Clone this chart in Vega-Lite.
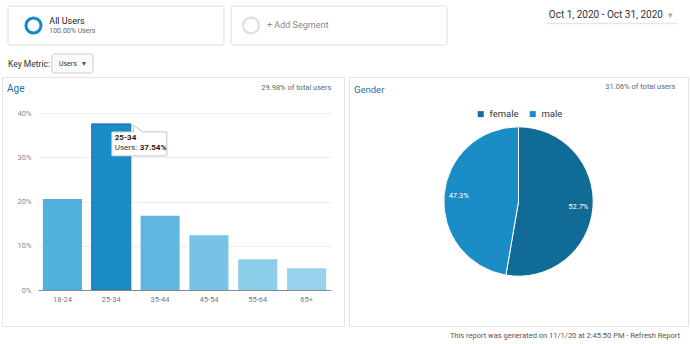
{
  "$schema": "https://vega.github.io/schema/vega-lite/v6.json",
  "background": "white",
  "padding": {"left": 1, "top": 5, "right": 1, "bottom": 2},
  "config": {
    "view": {"stroke": null},
    "font": "Roboto",
    "axis": {"labelFont": "Roboto", "titleFont": "Roboto"},
    "legend": {"labelFont": "Roboto"},
    "title": {"font": "Roboto", "fontWeight": "normal"},
    "text": {"font": "Roboto"}
  },
  "title": {"text": "This report was generated on 11/1/20 at 2:45:50 PM - Refresh Report", "orient": "bottom", "anchor": "end", "fontSize": 7.5, "color": "#555555", "offset": 5, "dx": -9},
  "resolve": {"scale": {"color": "independent", "strokeDash": "independent"}},
  "spacing": 2,
  "vconcat": [
    {
      "spacing": 7,
      "vconcat": [
        {
          "spacing": 0,
          "hconcat": [
            {
              "width": 446,
              "height": 39,
              "data": {"values": [
                {"segment": "All Users", "detail": "100.00% Users"},
                {"segment": "+ Add Segment", "detail": ""}
              ]},
              "layer": [
                {
                  "mark": {"type": "rect", "fill": "white", "stroke": "#dedede", "strokeWidth": 1, "cornerRadius": 2},
                  "encoding": {
                    "x": {"field": "segment", "type": "nominal", "axis": null, "scale": {"type": "band", "domain": ["All Users", "+ Add Segment"], "range": [6, 445], "paddingInner": 0.0314, "paddingOuter": 0}},
                    "strokeDash": {"field": "segment", "type": "nominal", "scale": {"domain": ["All Users", "+ Add Segment"], "range": [[1, 0], [3, 3]]}, "legend": null}
                  }
                },
                {
                  "transform": [{"filter": "datum.segment === 'All Users'"}],
                  "mark": {"type": "point", "filled": false, "stroke": "#1589c8", "strokeWidth": 3, "size": 227, "opacity": 1},
                  "encoding": {"x": {"field": "segment", "type": "nominal", "axis": null, "bandPosition": 0.118}}
                },
                {
                  "transform": [{"filter": "datum.segment === '+ Add Segment'"}],
                  "mark": {"type": "point", "filled": false, "stroke": "#e0e0e0", "strokeWidth": 2.2, "size": 254, "opacity": 1},
                  "encoding": {"x": {"field": "segment", "type": "nominal", "axis": null, "bandPosition": 0.0926}}
                },
                {
                  "transform": [{"filter": "datum.segment === 'All Users'"}],
                  "mark": {"type": "text", "align": "left", "baseline": "middle", "dy": -4.5, "fontSize": 9, "color": "#222222"},
                  "encoding": {"x": {"field": "segment", "type": "nominal", "axis": null, "bandPosition": 0.191}, "text": {"field": "segment"}}
                },
                {
                  "transform": [{"filter": "datum.segment === 'All Users'"}],
                  "mark": {"type": "text", "align": "left", "baseline": "middle", "dy": 5, "fontSize": 7, "color": "#666666"},
                  "encoding": {"x": {"field": "segment", "type": "nominal", "axis": null, "bandPosition": 0.191}, "text": {"field": "detail"}}
                },
                {
                  "transform": [{"filter": "datum.segment === '+ Add Segment'"}],
                  "mark": {"type": "text", "align": "left", "baseline": "middle", "dy": -0.5, "fontSize": 9, "color": "#888888"},
                  "encoding": {"x": {"field": "segment", "type": "nominal", "axis": null, "bandPosition": 0.1667}, "text": {"field": "segment"}}
                }
              ]
            },
            {
              "width": 241,
              "height": 17,
              "data": {"values": [{"period": "Oct 1, 2020 - Oct 31, 2020"}]},
              "layer": [
                {
                  "mark": {"type": "text", "align": "right", "baseline": "middle", "fontSize": 10, "color": "#333333"},
                  "encoding": {
                    "x": {"field": "period", "type": "nominal", "bandPosition": 0.893, "scale": {"type": "band", "range": [98, 229], "paddingInner": 0, "paddingOuter": 0}, "axis": {"orient": "bottom", "labels": false, "ticks": false, "title": null, "grid": false, "domainColor": "#e6e6e6", "domainWidth": 1.5}},
                    "text": {"field": "period"}
                  }
                },
                {
                  "mark": {"type": "text", "text": "▾", "align": "center", "baseline": "middle", "fontSize": 9, "color": "#aaaaaa"},
                  "encoding": {
                    "x": {"field": "period", "type": "nominal", "bandPosition": 0.954, "axis": {"orient": "bottom", "labels": false, "ticks": false, "title": null, "grid": false, "domainColor": "#e6e6e6", "domainWidth": 1.5}}
                  }
                }
              ]
            }
          ]
        },
        {
          "width": 100,
          "height": 19,
          "data": {"values": [
            {"item": "Key Metric:", "role": "label"},
            {"item": "Users", "role": "button"}
          ]},
          "layer": [
            {
              "transform": [{"filter": "datum.role === 'button'"}],
              "mark": {"type": "rect", "fill": "#fafafa", "stroke": "#cfcfcf", "strokeWidth": 1, "cornerRadius": 2},
              "encoding": {"x": {"field": "item", "type": "nominal", "axis": null, "scale": {"type": "band", "domain": ["Key Metric:", "Users"], "range": [6, 91], "paddingInner": 0.068, "paddingOuter": 0}}}
            },
            {
              "transform": [{"filter": "datum.role === 'label'"}],
              "mark": {"type": "text", "align": "left", "baseline": "middle", "fontSize": 8.5, "color": "#333333"},
              "encoding": {"x": {"field": "item", "type": "nominal", "axis": null, "bandPosition": 0}, "text": {"field": "item"}}
            },
            {
              "transform": [{"filter": "datum.role === 'button'"}],
              "mark": {"type": "text", "align": "left", "baseline": "middle", "fontSize": 7, "color": "#333333"},
              "encoding": {"x": {"field": "item", "type": "nominal", "axis": null, "bandPosition": 0.17}, "text": {"field": "item"}}
            },
            {
              "transform": [{"filter": "datum.role === 'button'"}],
              "mark": {"type": "text", "text": "▾", "align": "center", "baseline": "middle", "fontSize": 8, "color": "#555555"},
              "encoding": {"x": {"field": "item", "type": "nominal", "axis": null, "bandPosition": 0.77}}
            }
          ]
        }
      ]
    },
    {
      "spacing": 3,
      "resolve": {"scale": {"color": "independent"}},
      "title": {"text": "31.06% of total users", "anchor": "end", "offset": -14, "dx": -13, "fontSize": 7.5, "color": "#666666"},
      "hconcat": [
        {
          "width": 342,
          "height": 249,
          "view": {"stroke": "#e4e4e4"},
          "title": {"text": "Age", "anchor": "start", "offset": -17, "dx": 5, "fontSize": 10, "color": "#1a6fa8", "frame": "group"},
          "data": {"values": [
            {"age": "18-24", "users": 0.2056},
            {"age": "25-34", "users": 0.3754},
            {"age": "35-44", "users": 0.168},
            {"age": "45-54", "users": 0.1235},
            {"age": "55-64", "users": 0.0693},
            {"age": "65+", "users": 0.049}
          ]},
          "resolve": {"axis": {"x": "independent"}},
          "layer": [
            {
              "mark": {"type": "bar"},
              "encoding": {
                "x": {"field": "age", "type": "nominal", "scale": {"type": "band", "domain": ["18-24", "25-34", "35-44", "45-54", "55-64", "65+"], "range": [36, 329], "paddingInner": 0.2, "paddingOuter": 0.1}, "axis": {"orient": "bottom", "offset": -36, "zindex": 1, "domainColor": "#8a8a8a", "ticks": false, "labelPadding": 5, "labelFontSize": 7.5, "labelColor": "#777777", "labelAngle": 0, "title": null, "grid": false}},
                "y": {"field": "users", "type": "quantitative", "scale": {"domain": [0, 0.4], "range": [213, 36], "nice": false}, "axis": {"values": [0, 0.05, 0.1, 0.15, 0.2, 0.25, 0.3, 0.35, 0.4], "format": ".0%", "labelExpr": "round(datum.value*100) % 10 === 0 ? datum.label : ''", "ticks": false, "tickSize": 0, "domain": false, "labelPadding": -29, "labelFontSize": 7.5, "labelColor": "#888888", "gridColor": "#eeeeee", "title": null}},
                "color": {"field": "age", "type": "nominal", "scale": {"domain": ["18-24", "25-34", "35-44", "45-54", "55-64", "65+"], "range": ["#52b1dc", "#1b8dc6", "#60b8e0", "#78c3e5", "#8ccdea", "#98d3ee"]}, "legend": null},
                "stroke": {"condition": {"test": "datum.age === '25-34'", "value": "#136f9f"}, "value": null}
              }
            },
            {
              "transform": [{"filter": "datum.age === '25-34'"}],
              "mark": {"type": "point", "shape": "M-19,8L3,8L2,1L12,8L36,8L36,32L-19,32Z", "size": 4, "filled": true, "fill": "white", "stroke": "#c4c4c4", "strokeWidth": 1, "opacity": 1},
              "encoding": {
                "x": {"field": "age", "type": "nominal", "bandPosition": 1, "axis": {"orient": "top", "offset": -14, "labels": false, "ticks": false, "domain": false, "grid": false, "title": "29.98% of total users", "titleAnchor": "end", "titleFontSize": 7.5, "titleColor": "#666666", "titleFontWeight": "normal", "titlePadding": 0}},
                "y": {"field": "users", "type": "quantitative"}
              }
            },
            {
              "transform": [{"filter": "datum.age === '25-34'"}],
              "mark": {"type": "text", "align": "left", "baseline": "middle", "dx": -16, "dy": 14.5, "fontSize": 8, "fontWeight": "bold", "color": "#222222"},
              "encoding": {
                "x": {"field": "age", "type": "nominal", "bandPosition": 1, "axis": null},
                "y": {"field": "users", "type": "quantitative"},
                "text": {"field": "age"}
              }
            },
            {
              "transform": [{"filter": "datum.age === '25-34'"}],
              "mark": {"type": "text", "text": "Users:", "align": "left", "baseline": "middle", "dx": -16, "dy": 24.5, "fontSize": 8, "color": "#333333"},
              "encoding": {
                "x": {"field": "age", "type": "nominal", "bandPosition": 1, "axis": null},
                "y": {"field": "users", "type": "quantitative"}
              }
            },
            {
              "transform": [{"filter": "datum.age === '25-34'"}],
              "mark": {"type": "text", "align": "left", "baseline": "middle", "dx": 9, "dy": 24.5, "fontSize": 8, "fontWeight": "bold", "color": "#222222"},
              "encoding": {
                "x": {"field": "age", "type": "nominal", "bandPosition": 1, "axis": null},
                "y": {"field": "users", "type": "quantitative"},
                "text": {"field": "users", "type": "quantitative", "format": ".2%"}
              }
            }
          ]
        },
        {
          "width": 339,
          "height": 249,
          "view": {"stroke": "#e4e4e4"},
          "title": {"text": "Gender", "anchor": "start", "offset": -17, "dx": 5, "fontSize": 9.5, "color": "#1a6fa8", "frame": "group"},
          "data": {"values": [
            {"gender": "female", "users": 0.527},
            {"gender": "male", "users": 0.473}
          ]},
          "layer": [
            {
              "mark": {"type": "arc", "radius": 74.7, "stroke": "white", "strokeWidth": 1},
              "encoding": {
                "theta": {"field": "users", "type": "quantitative", "stack": true},
                "order": {"field": "gender", "sort": "ascending"},
                "color": {"field": "gender", "type": "nominal", "scale": {"domain": ["female", "male"], "range": ["#116b97", "#1a8dc6"]}, "legend": {"orient": "none", "legendX": 127, "legendY": 32, "direction": "horizontal", "title": null, "symbolType": "square", "symbolSize": 36, "symbolStrokeWidth": 0, "labelFontSize": 9.5, "labelColor": "#333333", "columnPadding": 9, "labelOffset": 4, "padding": 0}}
              }
            },
            {
              "mark": {"type": "text", "radius": 60, "fontSize": 7.5, "color": "white"},
              "encoding": {
                "theta": {"field": "users", "type": "quantitative", "stack": true},
                "order": {"field": "gender", "sort": "ascending"},
                "text": {"field": "users", "type": "quantitative", "format": ".1%"}
              }
            }
          ]
        }
      ]
    }
  ]
}
